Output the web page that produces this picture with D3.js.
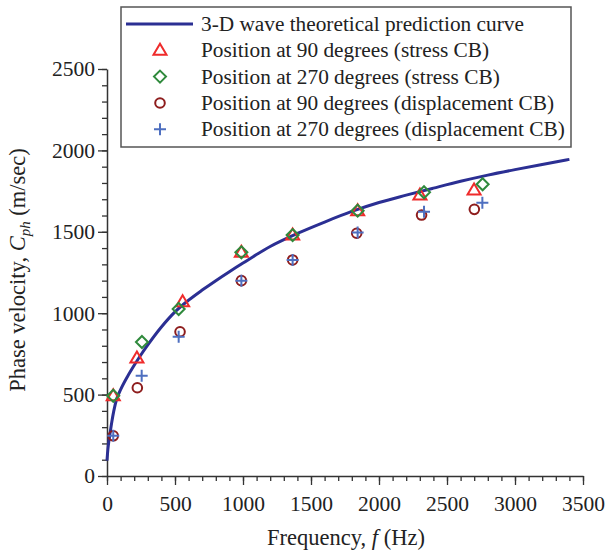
<!DOCTYPE html>
<html><head><meta charset="utf-8">
<script src="https://cdn.jsdelivr.net/npm/d3@7"></script>
<style>body{margin:0;background:#fff}svg{display:block}text{font-family:"Liberation Serif","Times New Roman",Times,Tinos,"Nimbus Roman","DejaVu Serif",serif;fill:#222}</style>
</head><body><svg id="c" width="605" height="551"></svg>
<script>
// Theoretical curve (frequency Hz, phase velocity m/s)
const curveF = [0,5,10,20,35,50,70,100,150,200,250,300,400,500,600,700,800,900,1000,1200,1400,1600,1800,2000,2200,2400,2600,2800,3000,3200,3400];
const curveV = [95,150,190,248,330,400,470,530,610,680,745,805,915,1008,1080,1142,1200,1255,1308,1410,1490,1560,1625,1680,1725,1768,1810,1848,1882,1914,1945];
// Measured data
const s90F = [46,220,556,988,1365,1843,2301,2699];
const s90V = [493,725,1071,1374,1480,1630,1726,1757];
const s270F = [46,257,527,988,1365,1843,2331,2762];
const s270V = [493,823,1026,1374,1480,1630,1743,1792];
const d90F = [46,223,537,988,1365,1836,2313,2701];
const d90V = [247,542,886,1200,1327,1491,1603,1638];
const d270F = [46,255,527,988,1365,1843,2331,2760];
const d270V = [247,616,856,1200,1327,1495,1623,1679];
const xTicks = [0,500,1000,1500,2000,2500,3000,3500];
const yTicks = [0,500,1000,1500,2000,2500];
const legendLabels = ["3-D wave theoretical prediction curve","Position at 90 degrees (stress CB)","Position at 270 degrees (stress CB)","Position at 90 degrees (displacement CB)","Position at 270 degrees (displacement CB)"];

const FONT = '"Liberation Serif","Times New Roman",Times,Tinos,"Nimbus Roman","DejaVu Serif",serif';
const svg = d3.select("#c");
const x = d3.scaleLinear().domain([0,3500]).range([107,583]);
const y = d3.scaleLinear().domain([0,2500]).range([476,69]);
const axisCol = "#333";
const fmt = d3.format("d");

// minor ticks
const gx = svg.append("g").attr("transform","translate(0,476)");
gx.call(d3.axisBottom(x).tickValues(d3.range(0,3501,100)).tickSize(5).tickFormat(""));
gx.call(g=>g.select(".domain").remove());
const gx2 = svg.append("g").attr("transform","translate(0,476)")
  .call(d3.axisBottom(x).tickValues(xTicks).tickSize(9).tickPadding(7).tickSizeOuter(0).tickFormat(fmt));
const gy = svg.append("g").attr("transform","translate(107,0)");
gy.call(d3.axisLeft(y).tickValues(d3.range(0,2501,100)).tickSize(5).tickFormat(""));
gy.call(g=>g.select(".domain").remove());
const gy2 = svg.append("g").attr("transform","translate(107,0)")
  .call(d3.axisLeft(y).tickValues(yTicks).tickSize(9).tickPadding(3).tickSizeOuter(0).tickFormat(fmt));
svg.selectAll("g").attr("font-family",null);
svg.selectAll(".tick line").attr("stroke",axisCol).attr("stroke-width",1.3);
svg.selectAll(".domain").attr("stroke",axisCol).attr("stroke-width",1.5);
svg.selectAll(".tick text").style("font-family",FONT).style("font-size","21.5px").attr("fill","#222");
gx2.selectAll(".tick text").attr("dy","0.9em");

// axis titles
const xt = svg.append("text").attr("x",346).attr("y",545).attr("text-anchor","middle").style("font-family",FONT).style("font-size","22.5px");
xt.append("tspan").text("Frequency, ");
xt.append("tspan").style("font-style","italic").text("f");
xt.append("tspan").text(" (Hz)");
const yt = svg.append("text").attr("transform","translate(25,270) rotate(-90)").attr("text-anchor","middle").style("font-family",FONT).style("font-size","22.5px");
yt.append("tspan").text("Phase velocity, ");
yt.append("tspan").style("font-style","italic").text("C");
yt.append("tspan").style("font-style","italic").style("font-size","15px").attr("dy","5").text("ph");
yt.append("tspan").attr("dy","-5").text(" (m/sec)");

// curve
const curveData = curveF.map((f,i)=>[f,curveV[i]]);
const lineCol = "#2b2f93";
svg.append("path").datum(curveData).attr("fill","none").attr("stroke",lineCol).attr("stroke-width",3)
  .attr("d",d3.line().x(d=>x(d[0])).y(d=>y(d[1])).curve(d3.curveMonotoneX));

// markers
const red="#ef2b2b", green="#2f8a3c", dred="#8e1d1d", blue="#4e6fc0";
function tri(g,cx,cy){g.append("path").attr("d",`M${cx},${cy-6.5}L${cx+6.5},${cy+4.5}L${cx-6.5},${cy+4.5}Z`).attr("fill","none").attr("stroke",red).attr("stroke-width",2);}
function dia(g,cx,cy){g.append("path").attr("d",`M${cx},${cy-6}L${cx+6},${cy}L${cx},${cy+6}L${cx-6},${cy}Z`).attr("fill","none").attr("stroke",green).attr("stroke-width",2);}
function cir(g,cx,cy){g.append("circle").attr("cx",cx).attr("cy",cy).attr("r",4.8).attr("fill","none").attr("stroke",dred).attr("stroke-width",2);}
function plus(g,cx,cy){g.append("path").attr("d",`M${cx-6},${cy}H${cx+6}M${cx},${cy-6}V${cy+6}`).attr("fill","none").attr("stroke",blue).attr("stroke-width",2);}
const gm = svg.append("g");
s90F.forEach((f,i)=>tri(gm,x(f),y(s90V[i])));
s270F.forEach((f,i)=>dia(gm,x(f),y(s270V[i])));
d90F.forEach((f,i)=>cir(gm,x(f),y(d90V[i])));
d270F.forEach((f,i)=>plus(gm,x(f),y(d270V[i])));

// legend
const lg = svg.append("g");
lg.append("rect").attr("x",121).attr("y",7).attr("width",450).attr("height",140).attr("fill","#fff").attr("stroke","#555").attr("stroke-width",1.5);
const rows = [24,50.3,76.6,103,129.3];
lg.append("line").attr("x1",126).attr("x2",193).attr("y1",rows[0]).attr("y2",rows[0]).attr("stroke",lineCol).attr("stroke-width",3);
tri(lg,160,rows[1]); dia(lg,160,rows[2]); cir(lg,160,rows[3]); plus(lg,160,rows[4]);
legendLabels.forEach((t,i)=>lg.append("text").attr("x",201).attr("y",rows[i]+7).style("font-family",FONT).style("font-size","21.3px").text(t));
</script></body></html>
